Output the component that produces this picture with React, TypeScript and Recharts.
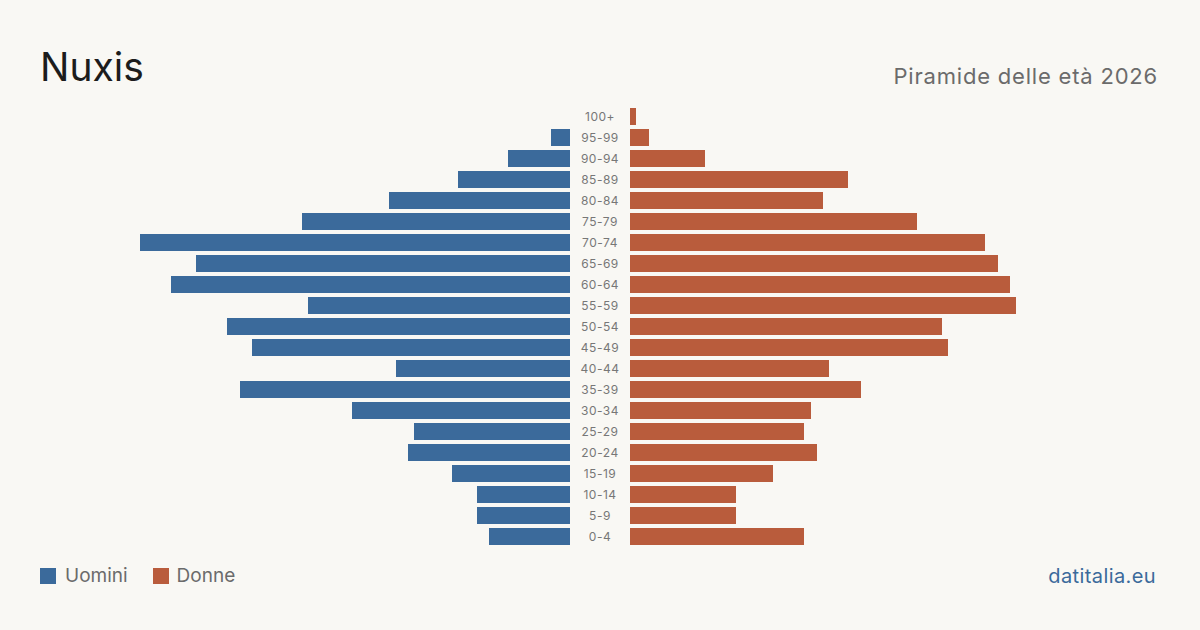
import React from "react";
import { BarChart, Bar, XAxis, YAxis } from "recharts";

const ageGroups = ["100+", "95-99", "90-94", "85-89", "80-84", "75-79", "70-74", "65-69", "60-64", "55-59", "50-54", "45-49", "40-44", "35-39", "30-34", "25-29", "20-24", "15-19", "10-14", "5-9", "0-4"];
const men = [0, 19, 62, 112, 181, 268, 430, 374, 399, 262, 343, 318, 174, 330, 218, 156, 162, 118, 93, 93, 81];
const women = [6, 19, 75, 218, 193, 287, 355, 368, 380, 386, 312, 318, 199, 231, 181, 174, 187, 143, 106, 106, 174];

const data = ageGroups.map((age, i) => ({ age, men: men[i], women: women[i] }));

const BLUE = "#3b6a9b";
const ORANGE = "#b95c3c";
const BG = "#f9f8f4";
const FONT = "Inter, 'Noto Sans', sans-serif";
const MAX = 450;

const AgeTick = (props: any) => {
  const { y, payload } = props;
  return (
    <text x={30} y={y} dy={4} textAnchor="middle" fontSize={12} fill="#777" fontFamily={FONT} letterSpacing={0.5}>
      {payload.value}
    </text>
  );
};

export default function App() {
  return (
    <div style={{ position: "absolute", left: 0, top: 0, width: 1200, height: 630, background: BG, fontFamily: FONT, overflow: "hidden" }}>
      <div style={{ position: "absolute", left: 40, top: 43, fontSize: 39, color: "#1c1c1c", lineHeight: "48px" }}>Nuxis</div>
      <div style={{ position: "absolute", right: 42, top: 62, fontSize: 22, color: "#6b6b6b", lineHeight: "28px", letterSpacing: 0.8 }}>Piramide delle età 2026</div>

      <div style={{ position: "absolute", left: 120, top: 106 }}>
        <BarChart width={450} height={441} data={data} layout="vertical" margin={{ top: 0, right: 0, bottom: 0, left: 0 }} barCategoryGap={2}>
          <XAxis type="number" domain={[0, MAX]} reversed hide />
          <YAxis type="category" dataKey="age" hide />
          <Bar dataKey="men" fill={BLUE} isAnimationActive={false} />
        </BarChart>
      </div>

      <div style={{ position: "absolute", left: 570, top: 106 }}>
        <BarChart width={510} height={441} data={data} layout="vertical" margin={{ top: 0, right: 0, bottom: 0, left: 0 }} barCategoryGap={2}>
          <XAxis type="number" domain={[0, MAX]} hide />
          <YAxis type="category" dataKey="age" width={60} axisLine={false} tickLine={false} tick={<AgeTick />} interval={0} />
          <Bar dataKey="women" fill={ORANGE} isAnimationActive={false} />
        </BarChart>
      </div>

      <div style={{ position: "absolute", left: 40, top: 564, display: "flex", alignItems: "center", fontSize: 19, color: "#6b6b6b", lineHeight: "24px" }}>
        <span style={{ display: "inline-block", width: 16, height: 16, background: BLUE, marginRight: 9 }} />
        <span>Uomini</span>
        <span style={{ display: "inline-block", width: 16, height: 16, background: ORANGE, marginLeft: 25, marginRight: 8 }} />
        <span>Donne</span>
      </div>

      <div style={{ position: "absolute", right: 44, top: 563, fontSize: 20, color: BLUE, lineHeight: "26px", letterSpacing: 0.4 }}>datitalia.eu</div>
    </div>
  );
}
